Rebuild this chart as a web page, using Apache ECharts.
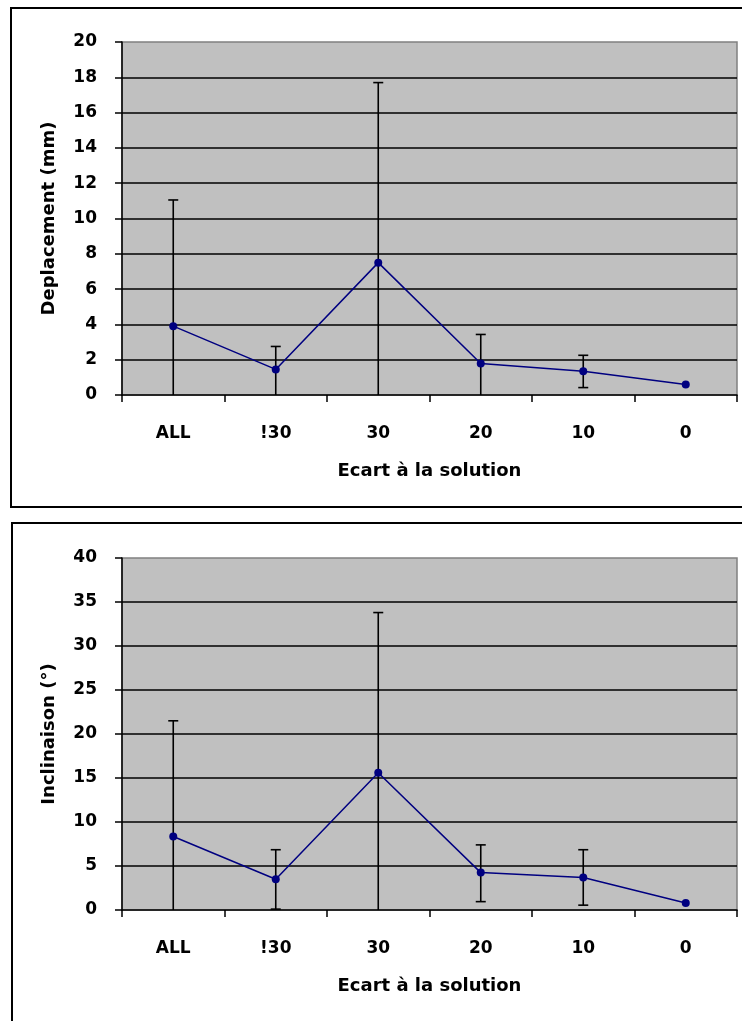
<!DOCTYPE html>
<html>
<head>
<meta charset="utf-8">
<script src="https://cdn.jsdelivr.net/npm/echarts@6/dist/echarts.min.js"></script>
<style>html,body{margin:0;padding:0;background:#fff}#c{width:742px;height:1021px}</style>
</head>
<body>
<div id="c"></div>
<script>
const categories = ['ALL', '!30', '30', '20', '10', '0'];

// Chart 1: Deplacement (mm)
const depMean = [3.9, 1.45, 7.5, 1.78, 1.35, 0.6];
const depHigh = [11.05, 2.75, 17.7, 3.43, 2.25, null];
const depLow  = [-3.3, 0.0, -2.7, 0.0, 0.42, null];
const depTicks = { min: 0, max: 20, interval: 2 };

// Chart 2: Inclinaison (°)
const incMean = [8.35, 3.5, 15.6, 4.25, 3.7, 0.8];
const incHigh = [21.5, 6.85, 33.8, 7.4, 6.85, null];
const incLow  = [-4.8, 0.1, -2.6, 0.95, 0.55, null];
const incTicks = { min: 0, max: 40, interval: 5 };

const FONT = "'DejaVu Sans', 'Liberation Sans', Arial, sans-serif";
const chart = echarts.init(document.getElementById('c'), null, { renderer: 'canvas' });

function errData(high, low) {
  const out = [];
  for (let i = 0; i < high.length; i++) {
    if (high[i] != null) out.push([i, low[i], high[i]]);
  }
  return out;
}

function errRender(params, api) {
  const i = api.value(0);
  const lo = api.value(1);
  const hi = api.value(2);
  const pHi = api.coord([i, hi]);
  const loClamped = Math.max(lo, 0);
  const pLo = api.coord([i, loClamped]);
  const cap = 5;
  const style = { stroke: '#000', lineWidth: 1.6 };
  const children = [
    { type: 'line', shape: { x1: pHi[0], y1: pHi[1], x2: pLo[0], y2: pLo[1] }, style: style },
    { type: 'line', shape: { x1: pHi[0] - cap, y1: pHi[1], x2: pHi[0] + cap, y2: pHi[1] }, style: style }
  ];
  if (lo > 0) {
    children.push({ type: 'line', shape: { x1: pLo[0] - cap, y1: pLo[1], x2: pLo[0] + cap, y2: pLo[1] }, style: style });
  }
  return { type: 'group', children: children };
}

function xAxisDef(idx) {
  return {
    type: 'category', gridIndex: idx, data: categories, boundaryGap: true,
    axisLine: { show: true, lineStyle: { color: '#000', width: 1.5 } },
    axisTick: { show: true, interval: 0, length: 7, inside: false, lineStyle: { color: '#000', width: 1.5 } },
    axisLabel: { margin: 30, color: '#000', fontSize: 17, fontWeight: 'bold', fontFamily: FONT, interval: 0 },
    name: 'Ecart à la solution', nameLocation: 'middle', nameGap: 67,
    nameTextStyle: { color: '#000', fontSize: 18, fontWeight: 'bold', fontFamily: FONT },
    splitLine: { show: false }
  };
}

function yAxisDef(idx, t, name, gap) {
  return {
    type: 'value', gridIndex: idx, min: t.min, max: t.max, interval: t.interval,
    axisLine: { show: true, lineStyle: { color: '#000', width: 1.5 } },
    axisTick: { show: true, length: 7, inside: false, lineStyle: { color: '#000', width: 1.5 } },
    axisLabel: { margin: 25, color: '#000', fontSize: 17, fontWeight: 'bold', fontFamily: FONT },
    splitLine: { show: true, showMinLine: false, showMaxLine: false, lineStyle: { color: '#000', width: 1.5 } },
    name: name, nameLocation: 'middle', nameGap: gap, nameRotate: 90,
    nameTextStyle: { color: '#000', fontSize: 18, fontWeight: 'bold', fontFamily: FONT }
  };
}

const option = {
  backgroundColor: '#fff',
  animation: false,
  textStyle: { fontFamily: FONT },
  graphic: [
    { type: 'rect', shape: { x: 11, y: 8, width: 740, height: 499 }, style: { fill: null, stroke: '#000', lineWidth: 2 }, z: 100 },
    { type: 'rect', shape: { x: 12, y: 523, width: 740, height: 520 }, style: { fill: null, stroke: '#000', lineWidth: 2 }, z: 100 }
  ],
  grid: [
    { left: 122, top: 42, width: 615, height: 353, show: true, backgroundColor: '#c0c0c0', borderColor: '#808080', borderWidth: 1.5 },
    { left: 122, top: 558, width: 615, height: 352, show: true, backgroundColor: '#c0c0c0', borderColor: '#808080', borderWidth: 1.5 }
  ],
  xAxis: [xAxisDef(0), xAxisDef(1)],
  yAxis: [yAxisDef(0, depTicks, 'Deplacement (mm)', 64), yAxisDef(1, incTicks, 'Inclinaison (°)', 64)],
  series: [
    { type: 'custom', xAxisIndex: 0, yAxisIndex: 0, data: errData(depHigh, depLow), renderItem: errRender, clip: true, z: 2 },
    { type: 'line', xAxisIndex: 0, yAxisIndex: 0, data: depMean, symbol: 'circle', symbolSize: 8,
      lineStyle: { color: '#000080', width: 1.5 }, itemStyle: { color: '#000080' }, z: 3 },
    { type: 'custom', xAxisIndex: 1, yAxisIndex: 1, data: errData(incHigh, incLow), renderItem: errRender, clip: true, z: 2 },
    { type: 'line', xAxisIndex: 1, yAxisIndex: 1, data: incMean, symbol: 'circle', symbolSize: 8,
      lineStyle: { color: '#000080', width: 1.5 }, itemStyle: { color: '#000080' }, z: 3 }
  ]
};
chart.setOption(option);
</script>
</body>
</html>
